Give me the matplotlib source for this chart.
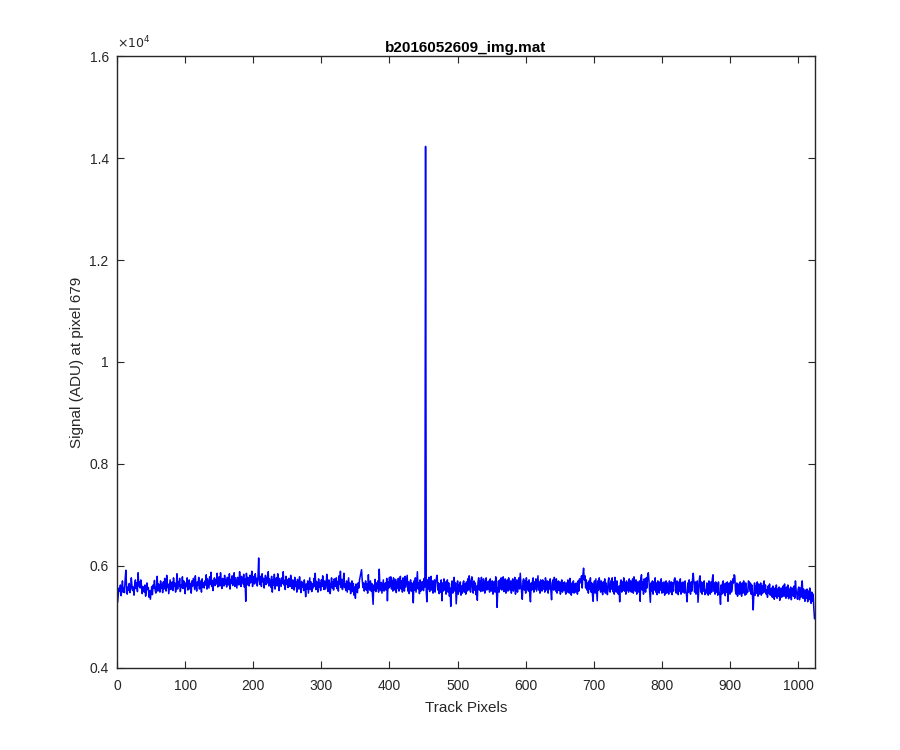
import numpy as np
import matplotlib
matplotlib.use("Agg")
import matplotlib.pyplot as plt
from matplotlib.ticker import FuncFormatter

plt.rcParams['font.family'] = ['Liberation Sans', 'DejaVu Sans']

title = "b2016052609_img.mat"
xlab = "Track Pixels"
ylab = "Signal (ADU) at pixel 679"

# signal, 1024 track pixels (16 per row)
signal = [
    5290, 5450, 5560, 5500, 5620, 5410, 5530, 5700, 5480, 5560, 5470, 5740, 5910, 5600, 5440, 5580,
    5520, 5650, 5470, 5540, 5760, 5600, 5510, 5580, 5420, 5630, 5720, 5550, 5660, 5490, 5860, 5600,
    5680, 5560, 5720, 5610, 5450, 5590, 5540, 5480, 5620, 5400, 5500, 5660, 5530, 5570, 5380, 5510,
    5340, 5470, 5590, 5430, 5620, 5560, 5710, 5520, 5460, 5580, 5790, 5500, 5640, 5590, 5480, 5700,
    5560, 5630, 5470, 5680, 5540, 5750, 5600, 5500, 5810, 5570, 5640, 5450, 5590, 5720, 5530, 5620,
    5680, 5510, 5760, 5600, 5660, 5480, 5570, 5840, 5540, 5690, 5600, 5750, 5490, 5620, 5580, 5780,
    5550, 5700, 5640, 5450, 5660, 5590, 5760, 5520, 5610, 5720, 5540, 5650, 5460, 5700, 5600, 5750,
    5640, 5530, 5800, 5600, 5500, 5680, 5610, 5770, 5540, 5700, 5630, 5480, 5740, 5580, 5660, 5560,
    5700, 5620, 5820, 5540, 5740, 5650, 5560, 5780, 5630, 5870, 5590, 5710, 5510, 5680, 5760, 5610,
    5730, 5640, 5850, 5580, 5690, 5780, 5600, 5860, 5660, 5550, 5750, 5690, 5600, 5810, 5640, 5720,
    5580, 5770, 5660, 5620, 5840, 5540, 5730, 5650, 5800, 5610, 5700, 5860, 5590, 5760, 5660, 5560,
    5770, 5660, 5620, 5880, 5700, 5590, 5790, 5720, 5640, 5830, 5580, 5740, 5300, 5850, 5620, 5770,
    5700, 5600, 5810, 5660, 5750, 5890, 5590, 5720, 5790, 5640, 5840, 5680, 5750, 5600, 5790, 6150,
    5710, 5630, 5790, 5590, 5840, 5680, 5750, 5560, 5710, 5810, 5630, 5770, 5660, 5880, 5600, 5740,
    5650, 5570, 5790, 5480, 5720, 5620, 5830, 5540, 5690, 5760, 5600, 5840, 5650, 5510, 5750, 5670,
    5590, 5760, 5650, 5880, 5620, 5710, 5530, 5790, 5630, 5720, 5570, 5750, 5660, 5590, 5810, 5640,
    5550, 5720, 5610, 5520, 5770, 5590, 5680, 5480, 5730, 5620, 5540, 5780, 5600, 5470, 5690, 5580,
    5660, 5510, 5720, 5580, 5390, 5640, 5540, 5700, 5460, 5610, 5760, 5530, 5680, 5490, 5640, 5560,
    5750, 5590, 5850, 5530, 5690, 5600, 5480, 5740, 5570, 5660, 5510, 5720, 5590, 5800, 5620, 5530,
    5700, 5540, 5630, 5830, 5580, 5490, 5720, 5650, 5450, 5620, 5760, 5560, 5680, 5520, 5740, 5590,
    5640, 5760, 5550, 5690, 5500, 5800, 5630, 5890, 5570, 5730, 5530, 5660, 5850, 5570, 5640, 5510,
    5700, 5480, 5610, 5760, 5530, 5660, 5450, 5600, 5700, 5490, 5650, 5420, 5580, 5360, 5640, 5530,
    5470, 5660, 5560, 5720, 5790, 5850, 5920, 5720, 5570, 5660, 5500, 5590, 5700, 5520, 5640, 5460,
    5820, 5580, 5520, 5700, 5500, 5650, 5450, 5240, 5620, 5520, 5730, 5490, 5660, 5550, 5700, 5480,
    5930, 5590, 5510, 5670, 5460, 5590, 5720, 5500, 5530, 5660, 5520, 5750, 5310, 5680, 5560, 5770,
    5590, 5780, 5540, 5710, 5500, 5760, 5580, 5520, 5730, 5470, 5680, 5560, 5750, 5500, 5630, 5790,
    5540, 5700, 5480, 5760, 5560, 5500, 5790, 5580, 5700, 5810, 5500, 5680, 5450, 5610, 5720, 5500,
    5660, 5480, 5270, 5700, 5520, 5760, 5480, 5680, 5880, 5540, 5660, 5450, 5720, 5500, 5680, 5530,
    5690, 5510, 5750, 5580, 14230, 5480, 5290, 5720, 5540, 5770, 5490, 5660, 5790, 5520, 5700, 5460,
    5560, 5720, 5480, 5680, 5760, 5810, 5520, 5660, 5450, 5640, 5480, 5720, 5310, 5660, 5500, 5740,
    5520, 5680, 5440, 5620, 5720, 5480, 5660, 5400, 5560, 5200, 5620, 5700, 5460, 5640, 5770, 5500,
    5660, 5250, 5480, 5700, 5440, 5620, 5490, 5680, 5420, 5600, 5460, 5660, 5700, 5480, 5640, 5440,
    5680, 5500, 5740, 5520, 5800, 5660, 5480, 5700, 5780, 5540, 5460, 5700, 5520, 5660, 5430, 5600,
    5320, 5680, 5760, 5520, 5700, 5490, 5770, 5560, 5500, 5740, 5660, 5460, 5700, 5760, 5520, 5680,
    5540, 5700, 5480, 5740, 5560, 5500, 5700, 5440, 5660, 5690, 5480, 5780, 5560, 5180, 5520, 5700,
    5480, 5720, 5540, 5760, 5520, 5680, 5780, 5490, 5680, 5740, 5460, 5660, 5720, 5500, 5760, 5560,
    5520, 5700, 5460, 5680, 5740, 5500, 5660, 5770, 5440, 5640, 5720, 5480, 5680, 5760, 5540, 5850,
    5660, 5480, 5340, 5700, 5740, 5520, 5700, 5460, 5760, 5540, 5680, 5500, 5720, 5440, 5290, 5660,
    5520, 5700, 5760, 5480, 5680, 5540, 5740, 5500, 5660, 5800, 5520, 5680, 5460, 5720, 5540, 5500,
    5720, 5540, 5680, 5480, 5760, 5660, 5520, 5700, 5460, 5680, 5540, 5740, 5500, 5330, 5660, 5720,
    5520, 5770, 5680, 5500, 5740, 5460, 5660, 5700, 5510, 5680, 5440, 5640, 5720, 5480, 5660, 5520,
    5680, 5500, 5440, 5660, 5480, 5720, 5540, 5460, 5750, 5520, 5420, 5660, 5480, 5700, 5460, 5640,
    5480, 5660, 5520, 5440, 5700, 5500, 5740, 5660, 5720, 5800, 5560, 5820, 5950, 5720, 5800, 5560,
    5720, 5520, 5660, 5460, 5700, 5540, 5760, 5480, 5660, 5430, 5300, 5620, 5700, 5460, 5740, 5540,
    5310, 5700, 5520, 5760, 5660, 5480, 5700, 5520, 5430, 5680, 5500, 5740, 5460, 5660, 5520, 5430,
    5680, 5760, 5500, 5480, 5700, 5540, 5760, 5490, 5680, 5440, 5770, 5660, 5480, 5700, 5520, 5440,
    5600, 5290, 5660, 5720, 5480, 5680, 5520, 5760, 5500, 5660, 5440, 5700, 5520, 5660, 5480, 5740,
    5520, 5700, 5480, 5660, 5740, 5460, 5780, 5660, 5500, 5720, 5440, 5680, 5520, 5480, 5700, 5300,
    5740, 5820, 5520, 5680, 5440, 5740, 5660, 5480, 5760, 5560, 5800, 5860, 5700, 5500, 5280, 5660,
    5500, 5700, 5440, 5680, 5520, 5760, 5480, 5660, 5430, 5700, 5520, 5460, 5680, 5520, 5740, 5460,
    5660, 5480, 5680, 5420, 5520, 5700, 5460, 5660, 5520, 5440, 5700, 5520, 5480, 5680, 5430, 5660,
    5500, 5720, 5760, 5660, 5460, 5700, 5520, 5430, 5680, 5500, 5740, 5440, 5660, 5480, 5680, 5520,
    5460, 5700, 5500, 5430, 5290, 5660, 5480, 5720, 5520, 5440, 5680, 5500, 5740, 5850, 5660, 5480,
    5680, 5440, 5520, 5700, 5280, 5500, 5740, 5800, 5480, 5680, 5440, 5660, 5500, 5700, 5430, 5520,
    5460, 5660, 5500, 5420, 5700, 5520, 5440, 5680, 5480, 5740, 5820, 5500, 5660, 5440, 5680, 5480,
    5640, 5420, 5680, 5480, 5430, 5240, 5620, 5440, 5660, 5700, 5460, 5640, 5410, 5660, 5480, 5680,
    5300, 5620, 5660, 5440, 5700, 5480, 5520, 5740, 5660, 5820, 5800, 5500, 5440, 5660, 5400, 5500,
    5640, 5440, 5680, 5480, 5400, 5660, 5460, 5700, 5500, 5420, 5660, 5440, 5520, 5480, 5700, 5680,
    5500, 5660, 5440, 5620, 5400, 5130, 5460, 5660, 5420, 5600, 5460, 5680, 5400, 5640, 5440, 5500,
    5660, 5420, 5600, 5460, 5640, 5700, 5480, 5620, 5440, 5520, 5380, 5600, 5460, 5640, 5420, 5480,
    5560, 5380, 5600, 5420, 5340, 5560, 5400, 5620, 5360, 5540, 5400, 5580, 5320, 5520, 5560, 5380,
    5540, 5600, 5400, 5640, 5420, 5360, 5580, 5400, 5620, 5350, 5540, 5390, 5580, 5330, 5520, 5560,
    5400, 5600, 5360, 5700, 5520, 5440, 5340, 5540, 5580, 5330, 5560, 5380, 5600, 5700, 5360, 5540,
    5380, 5300, 5520, 5360, 5540, 5290, 5500, 5340, 5560, 5320, 5260, 5480, 5300, 5440, 5160, 4960,
]
pixels = np.arange(1, len(signal) + 1)

xticks = list(range(0, 1001, 100))
yticks = list(range(4000, 16001, 2000))

fig = plt.figure(figsize=(9, 7.5), dpi=100)
ax = fig.add_axes([0.13, 0.11, 0.775, 0.815])

ax.plot(pixels, signal, color=(0, 0, 1), lw=1.1)

ax.set_xlim(0, 1024)
ax.set_ylim(4000, 16000)
ax.set_xticks(xticks)
ax.set_yticks(yticks)
ax.yaxis.set_major_formatter(FuncFormatter(lambda v, p: '%g' % (v / 1e4)))

grey = '#262626'
for s in ax.spines.values():
    s.set_color(grey)
    s.set_linewidth(1.0)
ax.tick_params(direction='in', top=True, right=True, length=5, width=0.8,
               colors=grey, labelsize=10, labelcolor=grey)
ax.tick_params(axis='x', pad=8)
ax.tick_params(axis='y', pad=6)

ax.text(0.0, 1.008, r'$\times10^{4}$', transform=ax.transAxes, fontsize=9,
        color=grey, ha='left', va='bottom')

ax.set_title(title, fontsize=11, fontweight='bold', color='black', pad=3)
ax.set_xlabel(xlab, fontsize=11, color=grey, labelpad=6)
ax.set_ylabel(ylab, fontsize=11, color=grey)

fig.savefig('out.png', dpi=100)
